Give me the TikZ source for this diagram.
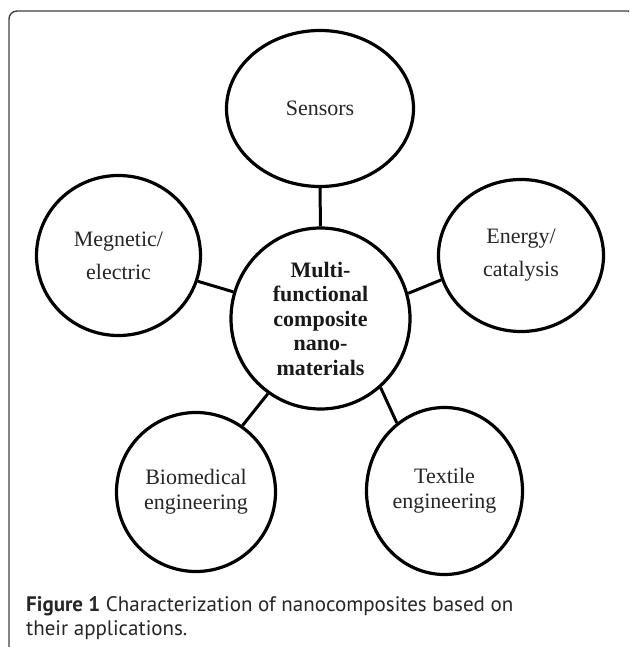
\documentclass[tikz,border=0pt]{standalone}
\usepackage{fontspec}
\setmainfont{Liberation Serif}
\newfontfamily\capfont{PT Sans}
\usetikzlibrary{shapes.geometric}
\tikzset{
  bub/.style={ellipse, draw=black, line width=3.2pt, inner sep=0pt, align=center},
  link/.style={draw=black, line width=3pt},
  framestyle/.style={draw=black!75, line width=1.4pt, rounded corners=8pt},
  lbl/.style={font=\fontsize{22}{25}\selectfont, text=black!85},
  lblwide/.style={font=\fontsize{22}{33}\selectfont, text=black!85},
  lblcenter/.style={font=\fontsize{22}{24.5}\selectfont\bfseries, text=black!90},
  captext/.style={font=\capfont\fontsize{21}{24}\selectfont, text=black!85, anchor=base west, inner sep=0pt}
}
\begin{document}
\begin{tikzpicture}[x=1pt,y=-1pt]
\clip (0,0) rectangle (629,647);
\fill[white] (0,0) rectangle (629,647);
\draw[framestyle] (9,11) rectangle (636,662);

\node[bub, lblcenter, minimum width=179pt, minimum height=181pt] (cen) at (320.5,318.5) {Multi-\\functional\\composite\\nano-\\materials};
\node[bub, lbl, minimum width=187pt, minimum height=156pt] (sen) at (320,108.5) {Sensors};
\node[bub, lblwide, minimum width=164pt, minimum height=160pt] (mag) at (118.5,255.5) {Megnetic/\\electric};
\node[bub, lblwide, minimum width=165pt, minimum height=152pt] (ene) at (521,255.5) {Energy/\\catalysis};
\node[bub, lbl, minimum width=159pt, minimum height=159pt] (bio) at (196,492) {Biomedical\\engineering};
\node[bub, lbl, minimum width=156pt, minimum height=167pt] (tex) at (444.5,491) {Textile\\engineering};

\draw[link] (cen.90) -- (sen.270);
\draw[link] (cen.163.5) -- (mag.-18);
\draw[link] (cen.16) -- (ene.197.7);
\draw[link] (cen.235) -- (bio.55.3);
\draw[link] (cen.-49.8) -- (tex.125);

\node[captext] (cap1) at (26,611) {\textbf{Figure 1} Characterization of nanocomposites based on};
\node[captext] (cap2) at (26,635) {their applications.};
\end{tikzpicture}
\end{document}
